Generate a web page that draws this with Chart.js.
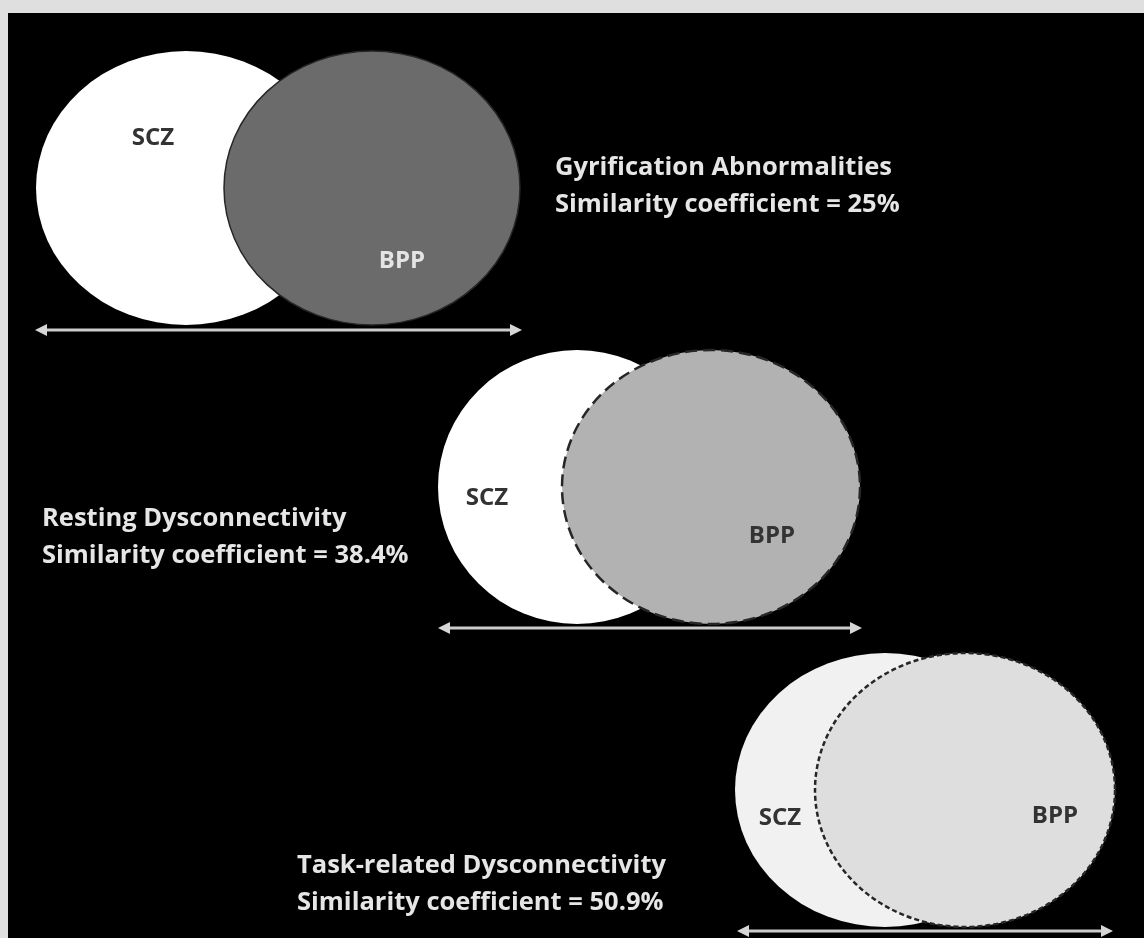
<!DOCTYPE html>
<html>
<head>
<meta charset="utf-8">
<script src="https://cdn.jsdelivr.net/npm/chart.js@4.4.1/dist/chart.umd.min.js"></script>
<style>
    html, body { margin: 0; padding: 0; background: #dfdfdf; }
    #wrap { position: absolute; left: 8px; top: 13px; width: 1136px; height: 925px; background: #000; }
    canvas { display: block; }
</style>
</head>
<body>
<div id="wrap"><canvas id="chart" width="1136" height="925"></canvas></div>
<script>
    // Panels, top to bottom
    const panels = ["Gyrification Abnormalities", "Resting Dysconnectivity", "Task-related Dysconnectivity"];
    const similarity = [25, 38.4, 50.9];
    const groups = ["SCZ", "BPP"];

    // Ellipse geometry in axis units (the axes follow the figure's own frame)
    const sczCenterX = [186, 577, 885];
    const bppCenterX = [372, 711, 965];
    const centerY = [188, 487, 790];
    const sczRadiusX = [150, 139, 150];
    const bppRadiusX = [148, 149, 150];
    const radiusY = [137, 137, 137];

    // Width arrows under each pair
    const arrowFrom = [35, 438, 737];
    const arrowTo = [522, 862, 1113];
    const arrowY = [330, 628, 931];

    // Label anchors
    const sczLabelAt = [[153, 138], [487, 498], [780, 818]];
    const bppLabelAt = [[402, 261], [772, 536], [1055, 816]];
    const captionAt = [[555, 168], [42, 519], [297, 866]];

    const sczFill = ["#ffffff", "#ffffff", "#f1f1f1"];
    const bppFill = ["#6b6b6b", "#b2b2b2", "#dedede"];
    const bppDash = [[], [12, 6], [5, 3]];
    const bppLabelColor = ["#e4e4e4", "#333333", "#333333"];

    const vennPlugin = {
        id: "venn",
        afterDatasetsDraw(chart) {
            const { ctx, scales } = chart;
            const x = scales.x, y = scales.y;
            const px = (v) => x.getPixelForValue(v);
            const py = (v) => y.getPixelForValue(v);
            const dx = (c, r) => Math.abs(px(c + r) - px(c));
            const dy = (c, r) => Math.abs(py(c + r) - py(c));

            ctx.save();
            panels.forEach((name, i) => {
                // SCZ ellipse
                ctx.beginPath();
                ctx.ellipse(px(sczCenterX[i]), py(centerY[i]), dx(sczCenterX[i], sczRadiusX[i]), dy(centerY[i], radiusY[i]), 0, 0, Math.PI * 2);
                ctx.fillStyle = sczFill[i];
                ctx.fill();

                // BPP ellipse
                ctx.beginPath();
                ctx.ellipse(px(bppCenterX[i]), py(centerY[i]), dx(bppCenterX[i], bppRadiusX[i]), dy(centerY[i], radiusY[i]), 0, 0, Math.PI * 2);
                ctx.fillStyle = bppFill[i];
                ctx.fill();
                ctx.setLineDash(bppDash[i]);
                ctx.lineWidth = i === 0 ? 1.5 : 2.5;
                ctx.strokeStyle = "#262626";
                ctx.stroke();
                ctx.setLineDash([]);

                // arrow
                const ax1 = px(arrowFrom[i]), ax2 = px(arrowTo[i]), ay = py(arrowY[i]);
                const head = 12, half = 6;
                ctx.strokeStyle = "#cbcbcb";
                ctx.fillStyle = "#d6d6d6";
                ctx.lineWidth = 3;
                ctx.beginPath();
                ctx.moveTo(ax1 + head - 2, ay);
                ctx.lineTo(ax2 - head + 2, ay);
                ctx.stroke();
                ctx.beginPath();
                ctx.moveTo(ax1, ay);
                ctx.lineTo(ax1 + head, ay - half);
                ctx.lineTo(ax1 + head, ay + half);
                ctx.closePath();
                ctx.fill();
                ctx.beginPath();
                ctx.moveTo(ax2, ay);
                ctx.lineTo(ax2 - head, ay - half);
                ctx.lineTo(ax2 - head, ay + half);
                ctx.closePath();
                ctx.fill();

                // group labels
                ctx.font = "700 24px 'Open Sans', sans-serif";
                ctx.textAlign = "center";
                ctx.textBaseline = "middle";
                ctx.fillStyle = "#333333";
                ctx.fillText(groups[0], px(sczLabelAt[i][0]), py(sczLabelAt[i][1]));
                ctx.fillStyle = bppLabelColor[i];
                ctx.fillText(groups[1], px(bppLabelAt[i][0]), py(bppLabelAt[i][1]));

                // caption
                ctx.font = "700 25.5px 'Open Sans', sans-serif";
                ctx.textAlign = "left";
                ctx.fillStyle = "#e6e6e6";
                const cx = px(captionAt[i][0]), cy = py(captionAt[i][1]);
                ctx.fillText(name, cx, cy);
                ctx.fillText("Similarity coefficient = " + similarity[i] + "%", cx, cy + 37);
            });
            ctx.restore();
        },
    };

    new Chart(document.getElementById("chart"), {
        type: "scatter",
        data: {
            datasets: [
                {
                    label: "centres",
                    data: sczCenterX.map((v, i) => ({ x: v, y: centerY[i] })),
                    pointRadius: 0,
                    showLine: false,
                },
            ],
        },
        options: {
            responsive: false,
            animation: false,
            layout: { padding: 0 },
            plugins: {
                legend: { display: false },
                tooltip: { enabled: false },
            },
            scales: {
                x: { type: "linear", min: 8, max: 1144, display: false },
                y: { type: "linear", min: 13, max: 938, reverse: true, display: false },
            },
        },
        plugins: [vennPlugin],
    });
</script>
</body>
</html>
